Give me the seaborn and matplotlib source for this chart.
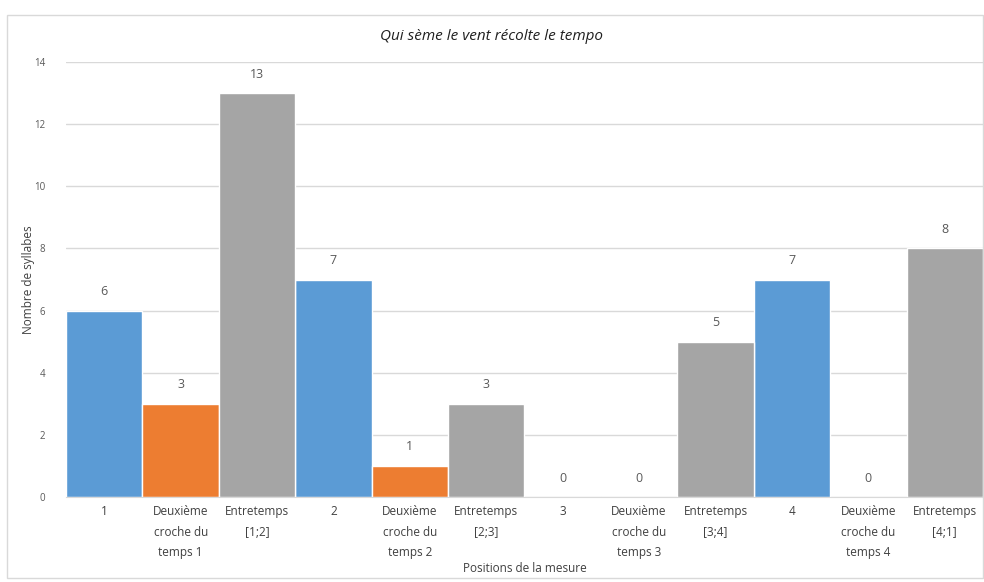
import matplotlib
matplotlib.use("Agg")
import matplotlib.pyplot as plt
from matplotlib.patches import Rectangle
import pandas as pd
import seaborn as sns

categories = [
    "1", "Deuxième\ncroche du\ntemps 1", "Entretemps\n[1;2]",
    "2", "Deuxième\ncroche du\ntemps 2", "Entretemps\n[2;3]",
    "3", "Deuxième\ncroche du\ntemps 3", "Entretemps\n[3;4]",
    "4", "Deuxième\ncroche du\ntemps 4", "Entretemps\n[4;1]",
]
syllabes = [6, 3, 13, 7, 1, 3, 0, 0, 5, 7, 0, 8]
kinds = ["temps", "croche", "entre"] * 4
kind_colors = {"temps": "#5B9BD5", "croche": "#ED7D31", "entre": "#A5A5A5"}

df = pd.DataFrame({"pos": categories, "n": syllabes, "kind": kinds})

sns.set_style("white")
plt.rcParams["font.family"] = ["Open Sans", "DejaVu Sans"]
txt = "#595959"

fig = plt.figure(figsize=(9.84, 5.82), dpi=100)
ax = fig.add_axes([66 / 984, 1 - 497 / 582, (983 - 66) / 984, (497 - 62) / 582])

sns.barplot(data=df, x="pos", y="n", hue="kind", palette=kind_colors,
            dodge=False, width=1.0, legend=False, ax=ax, saturation=1)

for i, v in enumerate(syllabes):
    ax.text(i, v + 0.4, str(v), ha="center", va="bottom", fontsize=9, color=txt)

ax.set_ylim(0, 14)
ax.set_xlim(-0.5, len(categories) - 0.5)
ax.set_yticks(range(0, 15, 2))
ax.yaxis.grid(True, color="#D9D9D9", linewidth=1)
ax.set_axisbelow(True)
for s in ["top", "right", "left"]:
    ax.spines[s].set_visible(False)
ax.spines["bottom"].set_color("#D9D9D9")
ax.tick_params(axis="y", labelsize=7, colors=txt, length=0, pad=15)
ax.tick_params(axis="x", labelsize=8.5, colors="#404040", length=0, pad=6)
for lbl in ax.get_xticklabels():
    lbl.set_linespacing(1.75)

ax.set_xlabel("Positions de la mesure", fontsize=8.5, color="#404040", labelpad=2)
ax.set_ylabel("Nombre de syllabes", fontsize=8.5, color="#404040")
ax.yaxis.set_label_coords(-0.034, 0.5)
fig.text(0.5, 1 - 36 / 582, "Qui sème le vent récolte le tempo", ha="center", va="center",
         fontsize=11, style="italic", color="#202020")

fig.patches.append(Rectangle((7 / 984, 4 / 582), 976 / 984, 563 / 582, transform=fig.transFigure,
                             fill=False, edgecolor="#D9D9D9", linewidth=1))

fig.savefig("out.png", dpi=100)
